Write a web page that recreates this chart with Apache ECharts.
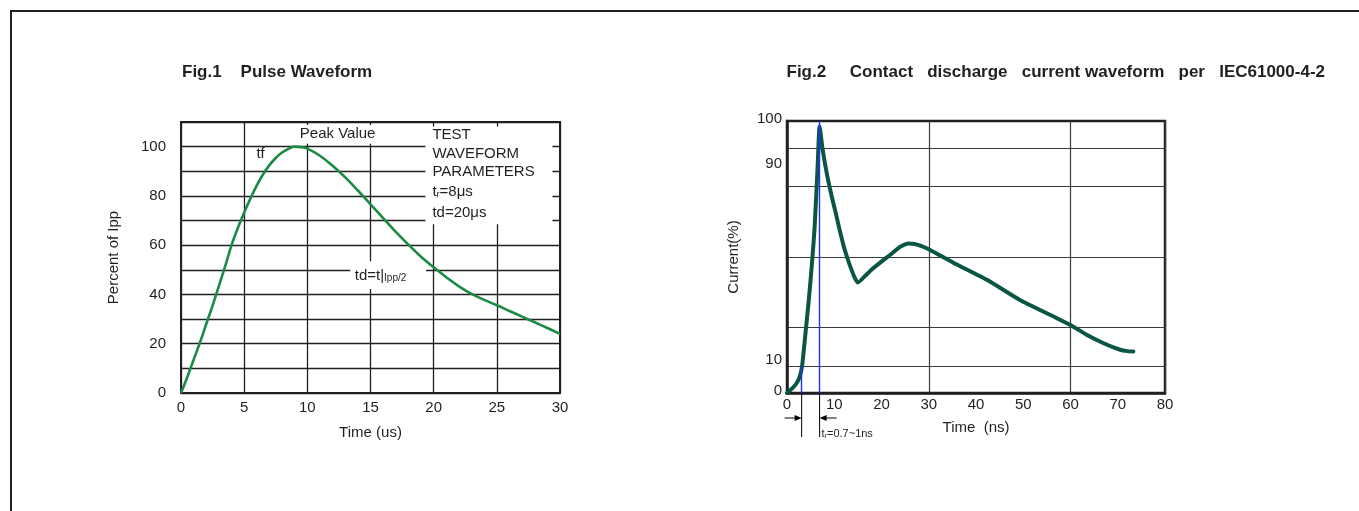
<!DOCTYPE html>
<html><head><meta charset="utf-8">
<script src="https://cdn.jsdelivr.net/npm/echarts@6.0.0/dist/echarts.min.js"></script>
<style>html,body{margin:0;padding:0;background:#fff}#c{width:1359px;height:511px}</style>
</head><body><div id="c"></div>
<script>
// ---- Fig.1 Pulse waveform data ----
const pulseTime = [0,0.5,1,1.5,2,2.5,3,3.5,4,4.5,5,5.5,6,6.5,7,7.5,8,8.5,9,9.5,10,11,12,13,14,15,16,17,18,19,20,21,22,23,24,25,26,27,28,29,30];
const pulsePercent = [0,6.5,13.5,20.5,28,35.5,43.5,51.5,60,67,73.3,79,84.3,88.8,92.5,95.4,97.6,99.1,100,99.8,99.2,96.3,92.2,87.5,82.2,76.6,71,65.4,60.2,55.3,51,47,43.3,40.2,37.8,35.6,33.3,31,28.7,26.4,24];
const pulseYLabels = [0,20,40,60,80,100];

// ---- Fig.2 ESD contact discharge data ----
const esdTime = [0,1,2,2.7,3.2,3.8,4.6,5.3,5.85,6.5,6.9,7.5,8.5,9.5,10.2,11,12,12.7,13.5,14.3,15,16.5,18,20,22,24,25.7,27,28.5,30.3,35.2,42.3,49.3,56.4,60.6,63.4,67,70.5,72,73.3];
const esdCurrent = [0,1.5,3.5,6,10,20,34,48,61,84,98,90,80,72,67,61,54,50,46,42.5,40.6,43,45.5,48.3,51,53.8,55,54.8,54,52.6,47.9,41.6,34.2,28.1,24.4,21.4,18.3,15.9,15.4,15.3];
const esdYLabels = [0,10,90,100];
const esdYGrid = [10,24,50,76,90];
const esdMarkers = [3.1, 6.9]; // 10% and peak time markers

const FONT = "'Liberation Sans', Arial, Helvetica, sans-serif";
const INK = '#231f20';
const FS = 15;

const chart = echarts.init(document.getElementById('c'), null, {renderer: 'canvas'});

// per-label nudges for Fig.2 y labels (reference prints them slightly off their lines)
const esdYLabelRich = {
  up: {fontFamily: FONT, fontSize: FS, color: INK, padding: [0, 0, 5, 0]},
  up2: {fontFamily: FONT, fontSize: FS, color: INK, padding: [0, 0, 11, 0]},
  down: {fontFamily: FONT, fontSize: FS, color: INK, padding: [32, 0, 0, 0]}
};
const esdYLabelStyle = {0: 'up', 10: 'up2', 90: 'down', 100: 'up'};

const option = {
  backgroundColor: '#fff',
  animation: false,
  textStyle: {fontFamily: FONT},
  title: [
    {text: 'Fig.1    Pulse Waveform', left: 182, top: 64, padding: 0,
     textStyle: {fontFamily: FONT, fontSize: 17, fontWeight: 'bold', color: INK}},
    {text: 'Fig.2     Contact   discharge   current waveform   per   IEC61000-4-2', right: 34, top: 64, padding: 0,
     textStyle: {fontFamily: FONT, fontSize: 17, fontWeight: 'bold', color: INK}}
  ],
  grid: [
    {left: 181, top: 122, width: 379, height: 271, show: true, borderColor: INK, borderWidth: 2, backgroundColor: 'transparent', outerBoundsMode: 'none'},
    {left: 787, top: 121, width: 378, height: 272, show: true, borderColor: INK, borderWidth: 2.5, backgroundColor: 'transparent', outerBoundsMode: 'none'}
  ],
  xAxis: [
    {type: 'value', gridIndex: 0, min: 0, max: 30, interval: 5,
     name: 'Time (us)', nameLocation: 'middle', nameGap: 32,
     nameTextStyle: {fontFamily: FONT, fontSize: FS, color: INK},
     axisLine: {show: true, onZero: false, lineStyle: {color: INK, width: 2}},
     axisTick: {show: false},
     axisLabel: {fontFamily: FONT, fontSize: FS, color: INK, margin: 7},
     splitLine: {show: true, lineStyle: {color: INK, width: 1.3}}},
    {type: 'value', gridIndex: 1, min: 0, max: 80, interval: 10,
     name: 'Time  (ns)', nameLocation: 'middle', nameGap: 27,
     nameTextStyle: {fontFamily: FONT, fontSize: FS, color: INK},
     axisLine: {show: true, onZero: false, lineStyle: {color: INK, width: 2.5}},
     axisTick: {show: false},
     axisLabel: {fontFamily: FONT, fontSize: FS, color: INK, margin: 4},
     splitLine: {show: false}},
    {type: 'value', gridIndex: 1, min: 0, max: 80, interval: 30,
     axisLine: {show: false}, axisTick: {show: false}, axisLabel: {show: false},
     splitLine: {show: true, lineStyle: {color: '#3a3a3a', width: 1.2}}}
  ],
  yAxis: [
    {type: 'value', gridIndex: 0, min: 0, max: 110, interval: 10,
     name: 'Percent of Ipp', nameLocation: 'middle', nameGap: 60,
     nameTextStyle: {fontFamily: FONT, fontSize: FS, color: INK},
     axisLine: {show: true, onZero: false, lineStyle: {color: INK, width: 2}},
     axisTick: {show: false},
     axisLabel: {fontFamily: FONT, fontSize: FS, color: INK, margin: 15,
                 formatter: v => pulseYLabels.indexOf(v) >= 0 ? String(v) : ''},
     splitLine: {show: true, lineStyle: {color: INK, width: 1.3}}},
    {type: 'value', gridIndex: 1, min: 0, max: 100,
     name: 'Current(%)', nameLocation: 'middle', nameGap: 46,
     nameTextStyle: {fontFamily: FONT, fontSize: FS, color: INK},
     axisLine: {show: true, onZero: false, lineStyle: {color: INK, width: 2.5}},
     axisTick: {show: false, customValues: esdYGrid},
     axisLabel: {fontFamily: FONT, fontSize: FS, color: INK, margin: 5, customValues: esdYLabels,
                 formatter: v => '{' + (esdYLabelStyle[v] || 'up') + '|' + v + '}', rich: esdYLabelRich},
     splitLine: {show: true, lineStyle: {color: '#3a3a3a', width: 1.2}}}
  ],
  series: [
    {type: 'line', xAxisIndex: 0, yAxisIndex: 0, showSymbol: false, smooth: 0.4,
     data: pulseTime.map((t, i) => [t, pulsePercent[i]]),
     lineStyle: {color: '#1b8a44', width: 2.6}, z: 20},
    {type: 'line', xAxisIndex: 1, yAxisIndex: 1, showSymbol: false, smooth: 0.2,
     data: esdTime.map((t, i) => [t, esdCurrent[i]]),
     lineStyle: {color: '#0b5544', width: 4, join: 'round', cap: 'round'}, z: 20,
     markLine: {silent: true, symbol: 'none', label: {show: false}, z: 25,
       lineStyle: {color: '#2233ee', width: 1.4, type: 'solid', opacity: 1},
       emphasis: {disabled: true},
       data: [
         [{coord: [esdMarkers[0], 0]}, {coord: [esdMarkers[0], 10]}],
         {xAxis: esdMarkers[1]}
       ]}}
  ]
};
chart.setOption(option);

// ---- annotations positioned from data coordinates ----
const P0 = (x, y) => chart.convertToPixel({xAxisIndex: 0, yAxisIndex: 0}, [x, y]);
const P1 = (x, y) => chart.convertToPixel({xAxisIndex: 1, yAxisIndex: 1}, [x, y]);
const ts = (extra) => Object.assign({fontFamily: FONT, fontSize: FS, fill: INK}, extra);
const g = [];

// outer frame
g.push({type: 'polyline', shape: {points: [[11, 530], [11, 11], [1370, 11]]}, style: {stroke: INK, lineWidth: 2, fill: null}, z: 1});

// Peak value label box
let a = P0(9.2, 108.8), b = P0(15.6, 101.2);
g.push({type: 'rect', shape: {x: a[0], y: a[1], width: b[0]-a[0], height: b[1]-a[1]}, style: {fill: '#fff'}, z: 10});
let c = P0(12.4, 105.2);
g.push({type: 'text', x: c[0], y: c[1], style: ts({text: 'Peak Value', align: 'center', verticalAlign: 'middle'}), z: 11});

// tf label
c = P0(6.3, 97.0);
g.push({type: 'text', x: c[0], y: c[1], style: ts({text: 'tf', align: 'center', verticalAlign: 'middle'}), z: 11});

// test waveform parameters box
a = P0(19.35, 108.2); b = P0(29.4, 68.5);
g.push({type: 'rect', shape: {x: a[0], y: a[1], width: b[0]-a[0], height: b[1]-a[1]}, style: {fill: '#fff'}, z: 10});
const px = P0(19.9, 0)[0];
const rows = [[104.6, 'TEST'], [97.0, 'WAVEFORM'], [89.6, 'PARAMETERS']];
rows.forEach(r => {
  g.push({type: 'text', x: px, y: P0(0, r[0])[1], style: ts({text: r[1], verticalAlign: 'middle'}), z: 11});
});
g.push({type: 'text', x: px, y: P0(0, 81.6)[1], style: ts({text: '{a|t}{s|r}{a|=8μs}', verticalAlign: 'middle',
  rich: {a: {fontFamily: FONT, fontSize: FS, fill: INK}, s: {fontFamily: FONT, fontSize: 9, fill: INK, padding: [6, 0, 0, 0]}}}), z: 11});
g.push({type: 'text', x: px, y: P0(0, 73.0)[1], style: ts({text: 'td=20μs', verticalAlign: 'middle'}), z: 11});

// td = t|Ipp/2 label box
a = P0(13.4, 53.5); b = P0(19.4, 42.2);
g.push({type: 'rect', shape: {x: a[0], y: a[1], width: b[0]-a[0], height: b[1]-a[1]}, style: {fill: '#fff'}, z: 10});
c = P0(13.75, 47.5);
g.push({type: 'text', x: c[0], y: c[1], style: ts({text: '{a|td=t|}{s|Ipp/2}', verticalAlign: 'middle',
  rich: {a: {fontFamily: FONT, fontSize: FS, fill: INK}, s: {fontFamily: FONT, fontSize: 10, fill: INK, padding: [5, 0, 0, 0]}}}), z: 11});

// rise-time annotation below Fig.2 axis
const m0 = P1(esdMarkers[0], 0), m1 = P1(esdMarkers[1], 0);
const yTop = m0[1], yBot = m0[1] + 44, yArr = m0[1] + 25;
g.push({type: 'line', shape: {x1: m0[0], y1: yTop, x2: m0[0], y2: yBot}, style: {stroke: '#000', lineWidth: 1}, z: 10});
g.push({type: 'line', shape: {x1: m1[0], y1: yTop, x2: m1[0], y2: yBot}, style: {stroke: '#000', lineWidth: 1}, z: 10});
g.push({type: 'line', shape: {x1: m0[0]-17, y1: yArr, x2: m0[0]-4, y2: yArr}, style: {stroke: '#000', lineWidth: 1}, z: 10});
g.push({type: 'polygon', shape: {points: [[m0[0], yArr], [m0[0]-7, yArr-3], [m0[0]-7, yArr+3]]}, style: {fill: '#000'}, z: 10});
g.push({type: 'line', shape: {x1: m1[0]+4, y1: yArr, x2: m1[0]+17, y2: yArr}, style: {stroke: '#000', lineWidth: 1}, z: 10});
g.push({type: 'polygon', shape: {points: [[m1[0], yArr], [m1[0]+7, yArr-3], [m1[0]+7, yArr+3]]}, style: {fill: '#000'}, z: 10});
g.push({type: 'text', x: m1[0] + 2, y: yBot - 3, style: ts({text: '{a|t}{s|r}{a|=0.7~1ns}', verticalAlign: 'middle',
  rich: {a: {fontFamily: FONT, fontSize: 11, fill: INK}, s: {fontFamily: FONT, fontSize: 7, fill: INK, padding: [4, 0, 0, 0]}}}), z: 11});

chart.setOption({graphic: {elements: g}});
</script>
</body></html>
